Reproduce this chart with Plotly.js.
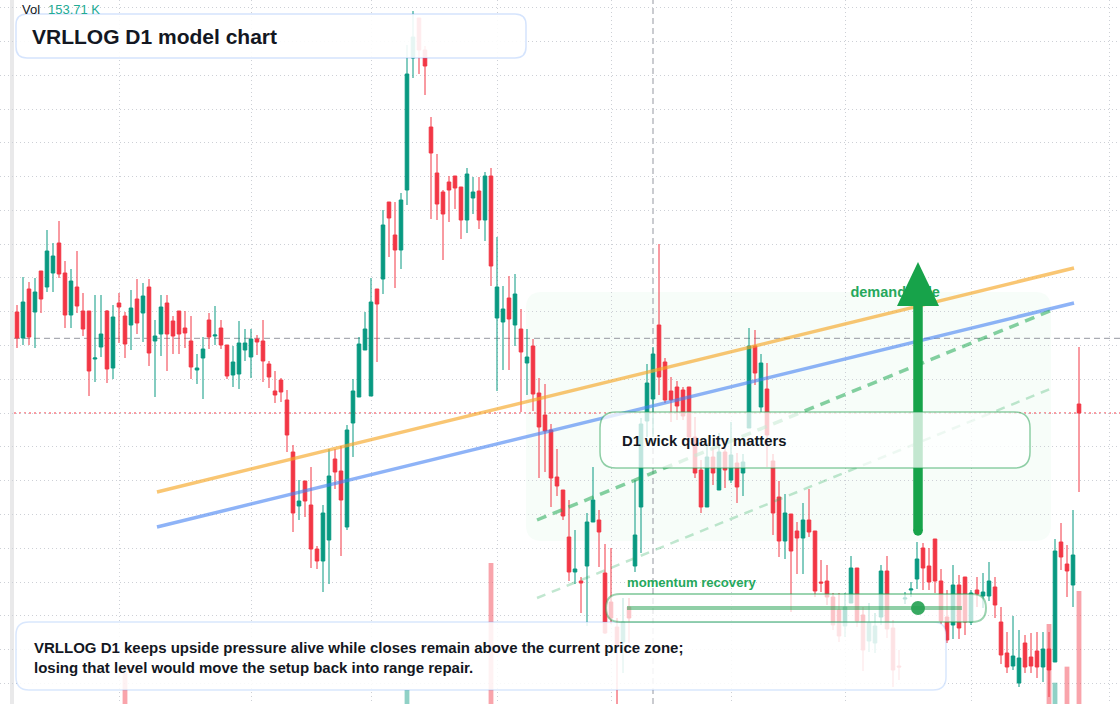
<!DOCTYPE html>
<html><head><meta charset="utf-8">
<script src="https://cdn.plot.ly/plotly-3.0.1.min.js"></script>
<style>html,body{margin:0;padding:0;background:#fff;}#chart{width:1120px;height:704px;}</style>
</head><body><div id="chart"></div>
<script>
// ---- data (price units: arbitrary) ----
const openP = [392,366,415,392,433,417,431,461,431,389, 417,393,393,345,357,393,336,401,388,379,
405,391,417,363,370,401,383,393,376,363, 334,346,384,368,376,359,329,330,354,347,
365,363,340,313,324,304,252,198,223,199, 155,143,164,245,233,177,281,307,354,308,
415,425,502,469,454,514,646,686,654,577, 531,512,522,528,517,484,506,513,484,528,
386,382,406,379,375,341,358,311,289,274, 227,214,167,132,123,138,182,184,131,102,
77,62,97,138,197,283,305,379,342,313, 317,314,317,267,234,197,247,214,252,224,
241,231,276,358,297,315,243,207,163,190, 173,166,184,173,122,123,107,94,78,101,
136,89,63,61,87,133,76,38,105,114, 125,156,138,165,123,87,79,119,127,82,
114,108,108,117,82,51,38,21,61,47, 53,37,55,42,162,140,119,300];
const highP = [399,427,422,426,433,474,461,483,443,435, 453,411,393,409,409,394,399,411,392,414,
425,421,425,384,409,409,388,393,393,388, 350,367,391,398,384,359,358,383,375,375,
369,384,343,333,326,314,259,224,223,237, 158,199,255,255,258,279,325,367,392,426,
415,494,502,502,511,659,693,686,658,587, 550,514,528,528,517,536,527,527,532,536,
467,418,428,430,395,375,365,326,320,280, 255,214,204,174,127,191,237,194,160,156,
86,106,106,224,286,340,357,460,346,327, 323,317,317,287,244,261,256,271,261,282,
251,250,376,374,350,341,250,223,210,190, 182,201,215,173,144,139,111,111,111,148,
136,97,101,91,139,148,84,54,112,122, 162,161,156,165,135,114,139,129,127,114,
127,131,142,127,97,72,88,74,69,71, 72,72,72,165,181,159,194,357];
const lowP = [356,359,359,356,391,412,412,426,376,376, 391,368,308,322,347,321,325,361,346,354,
370,362,338,307,348,333,350,350,356,325, 320,305,355,359,355,325,317,315,343,326,
349,322,316,301,302,252,172,184,187,136, 135,112,120,215,148,174,247,307,354,308,
342,410,447,416,435,499,626,630,609,485, 484,444,482,495,465,471,490,475,463,418,
313,334,334,358,292,309,293,226,232,197, 208,184,123,120,91,78,182,137,70,80,
0,31,61,132,151,267,267,309,301,282, 284,284,262,226,191,197,219,214,216,221,
201,208,276,319,292,237,169,147,145,92, 130,130,167,107,112,99,74,62,67,101,
77,33,52,51,79,66,17,24,100,107, 115,114,114,111,80,61,65,65,69,79,
97,96,103,86,40,31,34,17,31,31, 26,22,7,42,134,107,97,212];
const closeP = [366,402,367,412,405,453,448,430,389,423, 398,375,333,346,370,335,387,397,360,396,
381,408,351,368,397,370,368,370,371,337, 336,355,367,369,359,328,342,361,361,365,
362,343,327,309,312,269,191,203,203,155, 143,191,228,232,204,274,313,360,375,402,
400,479,486,454,504,630,667,654,638,551, 500,490,514,516,484,530,512,484,528,438,
417,395,385,410,352,347,310,277,273,226, 218,188,132,135,121,182,204,172,71,86,
57,82,86,169,280,321,350,327,304,304, 298,288,267,231,197,247,231,252,234,249,
217,242,358,331,341,269,191,163,191,153, 166,184,172,113,121,107,79,68,97,136,
83,54,81,78,133,75,34,37,106,115, 145,136,122,123,83,64,119,76,82,111,
110,112,123,99,49,37,48,46,37,38, 37,55,34,153,147,133,149,291];
// volume in K
const volK = [0,0,0,0,0,0,0,0,0,0, 0,0,0,0,0,0,0,0,43.5,0,
0,0,0,0,0,0,0,0,0,0, 0,0,0,0,0,0,0,0,0,0,
0,0,0,0,0,0,0,0,0,0, 0,0,0,0,0,0,0,0,0,0,
0,0,0,0,0,19.0,0,0,0,0, 0,0,0,0,0,0,0,0,0,191.8,
0,0,0,0,0,0,0,0,0,0, 0,0,0,0,0,0,0,0,0,0,
0,0,0,0,0,0,0,0,0,0, 0,0,0,0,0,0,0,0,0,0,
0,0,0,0,0,0,0,0,0,0, 0,0,0,0,0,0,0,0,0,0,
0,0,0,0,0,0,0,0,0,0, 0,0,0,0,0,0,0,0,0,0,
0,0,0,0,0,0,0,0,0,0, 0,0,108.8,29.0,0,50.8,0,153.71];
const barIndex = openP.map((_, k) => k + 1);
// grid/tick positions
const priceGrid = [696.3,662.5,628.7,595.0,561.2,527.4,493.6,459.8,426.1,392.3,358.5,324.7,290.9,257.2,223.4,189.6,155.8,122.0,88.3,54.5,20.7];
const timeGrid = [18,40,60,81,100,120,139,160,183];
// drawn levels (bar index, price)
const upperTrendX = [24.33,177.17], upperTrendY = [212,436];
const lowerTrendX = [24.33,177.17], lowerTrendY = [177,401];
const channelX = [87.67,173.17], channelTopY = [184,393], channelLowY = [106,315];
const crossBar = 107, crossPrice = 365.7;
// texts
const titleText = 'VRLLOG D1 model chart';
const noteLine1 = 'VRLLOG D1 keeps upside pressure alive while closes remain above the current price zone;';
const noteLine2 = 'losing that level would move the setup back into range repair.';
const wickText = 'D1 wick quality matters';
const momText = 'momentum recovery';
const demandText = 'demand-side';

// ---- layout helpers ----
const W = 1120, H = 704;
const X = p => p / W, Y = p => 1 - p / H;
function rr(x0, y0, x1, y1, r) {
  return `M${X(x0+r)},${Y(y0)} L${X(x1-r)},${Y(y0)} Q${X(x1)},${Y(y0)} ${X(x1)},${Y(y0+r)} ` +
    `L${X(x1)},${Y(y1-r)} Q${X(x1)},${Y(y1)} ${X(x1-r)},${Y(y1)} L${X(x0+r)},${Y(y1)} ` +
    `Q${X(x0)},${Y(y1)} ${X(x0)},${Y(y1-r)} L${X(x0)},${Y(y0+r)} Q${X(x0)},${Y(y0)} ${X(x0+r)},${Y(y0)} Z`;
}
function circ(cx, cy, r) {
  return {type:'circle', xref:'paper', yref:'paper', x0:X(cx-r), x1:X(cx+r), y0:Y(cy+r), y1:Y(cy-r)};
}
const UP = '#089981', DN = '#f23645';
const volColors = closeP.map((c, k) => c >= openP[k] ? 'rgba(8,153,129,0.45)' : 'rgba(242,54,69,0.45)');
const FONT = 'Liberation Sans, Arial, sans-serif';

const traces = [
  {type:'bar', x:barIndex, y:volK, yaxis:'y', marker:{color:volColors, line:{width:0}}, width:0.8, hoverinfo:'skip'},
  {type:'candlestick', x:barIndex, open:openP, high:highP, low:lowP, close:closeP, yaxis:'y2',
   increasing:{line:{color:UP, width:1}, fillcolor:UP}, decreasing:{line:{color:DN, width:1}, fillcolor:DN},
   whiskerwidth:0, hoverinfo:'skip'},
  {type:'scatter', mode:'lines', x:upperTrendX, y:upperTrendY, yaxis:'y2', line:{color:'rgba(246,168,40,0.65)', width:3.5}, hoverinfo:'skip'},
  {type:'scatter', mode:'lines', x:lowerTrendX, y:lowerTrendY, yaxis:'y2', line:{color:'rgba(66,128,242,0.6)', width:3.5}, hoverinfo:'skip'},
  {type:'scatter', mode:'lines', x:channelX, y:channelTopY, yaxis:'y2', line:{color:'rgba(34,170,85,0.55)', width:3.5, dash:'10px,7px'}, hoverinfo:'skip'},
  {type:'scatter', mode:'lines', x:channelX, y:channelLowY, yaxis:'y2', line:{color:'rgba(34,170,85,0.28)', width:2.5, dash:'9px,7px'}, hoverinfo:'skip'},
  {type:'scatter', mode:'text', x:[139.9], y:[411], yaxis:'y2', text:['<b>'+demandText+'</b>'], textposition:'middle right',
   textfont:{family:FONT, size:14.5, color:'#25a85c'}, hoverinfo:'skip'}
];

const shapes = [
  // demand zone
  {type:'path', xref:'paper', yref:'paper', path:rr(526,292,1051,541,16), fillcolor:'rgba(34,197,94,0.035)', line:{width:0}, layer:'below'},
  // left margin + strip
  {type:'rect', xref:'paper', yref:'paper', x0:0, x1:X(10), y0:0, y1:1, fillcolor:'#ffffff', line:{width:0}, layer:'between'},
  {type:'rect', xref:'paper', yref:'paper', x0:X(10), x1:X(14), y0:0, y1:1, fillcolor:'#e9e9ea', line:{width:0}, layer:'between'},
  // crosshair
  {type:'line', xref:'paper', yref:'y2', x0:X(14), x1:1, y0:crossPrice, y1:crossPrice, line:{color:'#9598a1', width:1, dash:'6px,4px'}, layer:'between'},
  {type:'line', xref:'x', yref:'paper', x0:crossBar, x1:crossBar, y0:0, y1:1, line:{color:'#9598a1', width:1, dash:'6px,4px'}, layer:'between'},
  // last price line
  {type:'line', xref:'paper', yref:'y2', x0:X(14), x1:1, y0:closeP[closeP.length-1], y1:closeP[closeP.length-1], line:{color:'#f23645', width:1, dash:'2px,3px'}, layer:'between'},
  // arrow
  {type:'line', xref:'paper', yref:'paper', x0:X(918), x1:X(918), y0:Y(300), y1:Y(531), line:{color:'#17a34a', width:9.5}, layer:'above'},
  Object.assign(circ(918,531,4.75), {fillcolor:'#17a34a', line:{width:0}, layer:'above'}),
  {type:'path', xref:'paper', yref:'paper', path:`M${X(918)},${Y(262)} L${X(939)},${Y(306)} L${X(897)},${Y(306)} Z`, fillcolor:'#17a34a', line:{width:0}, layer:'above'},
  // boxes
  {type:'path', xref:'paper', yref:'paper', path:rr(16,14,526,58,11), fillcolor:'rgba(255,255,255,0.9)', line:{color:'rgba(66,133,244,0.22)', width:1.5}, layer:'above'},
  {type:'path', xref:'paper', yref:'paper', path:rr(16,622,946,690,13), fillcolor:'rgba(255,255,255,0.86)', line:{color:'rgba(66,133,244,0.2)', width:1.5}, layer:'above'},
  {type:'path', xref:'paper', yref:'paper', path:rr(600,412,1030,468,16), fillcolor:'rgba(255,255,255,0.74)', line:{color:'rgba(34,160,80,0.5)', width:1.5}, layer:'above'},
  {type:'path', xref:'paper', yref:'paper', path:rr(606,594,986,622,14), fillcolor:'rgba(255,255,255,0.7)', line:{color:'rgba(34,160,80,0.45)', width:2}, layer:'above'},
  {type:'line', xref:'paper', yref:'paper', x0:X(627), x1:X(962), y0:Y(608), y1:Y(608), line:{color:'rgba(34,160,80,0.5)', width:4}, layer:'above'},
  Object.assign(circ(918,608,7), {fillcolor:'rgba(34,160,80,0.9)', line:{width:0}, layer:'above'})
];

const ann = (x, y, text, size, color, extra) => Object.assign({xref:'paper', yref:'paper', x:X(x), y:Y(y), xanchor:'left', yanchor:'middle',
  text, showarrow:false, font:{family:FONT, size, color}}, extra || {});
const annotations = [
  ann(20, 9, 'Vol', 13, '#131722'),
  ann(46, 9, volK[volK.length-1].toFixed(2) + ' K', 13, '#22ab94'),
  ann(30, 36, '<b>'+titleText+'</b>', 21, '#131722'),
  ann(32, 647, '<b>'+noteLine1+'</b>', 15, '#131722'),
  ann(32, 667, '<b>'+noteLine2+'</b>', 15, '#131722'),
  ann(620, 441, '<b>'+wickText+'</b>', 14.8, '#131722'),
  ann(625, 582, '<b>'+momText+'</b>', 13.1, '#25a85c')
];

const layout = {
  width:W, height:H, margin:{l:0, r:0, t:0, b:0, pad:0},
  paper_bgcolor:'#ffffff', plot_bgcolor:'#ffffff', showlegend:false, boxgap:0.15,
  xaxis:{range:[-1.8333, 184.8333], tickvals:timeGrid, showticklabels:false, ticks:'', showgrid:true,
    gridcolor:'#cdd0d6', griddash:'1px,3px', gridwidth:1, zeroline:false, showline:false, rangeslider:{visible:false}, fixedrange:true},
  yaxis:{range:[0, 957.6], showgrid:false, showticklabels:false, ticks:'', zeroline:false, showline:false, fixedrange:true},
  yaxis2:{range:[0, 704], overlaying:'y', tickvals:priceGrid, showticklabels:false, ticks:'', showgrid:true,
    gridcolor:'#cdd0d6', griddash:'1px,3px', gridwidth:1, zeroline:false, showline:false, fixedrange:true},
  shapes, annotations
};
Plotly.newPlot('chart', traces, layout, {displayModeBar:false, staticPlot:true});
</script></body></html>
